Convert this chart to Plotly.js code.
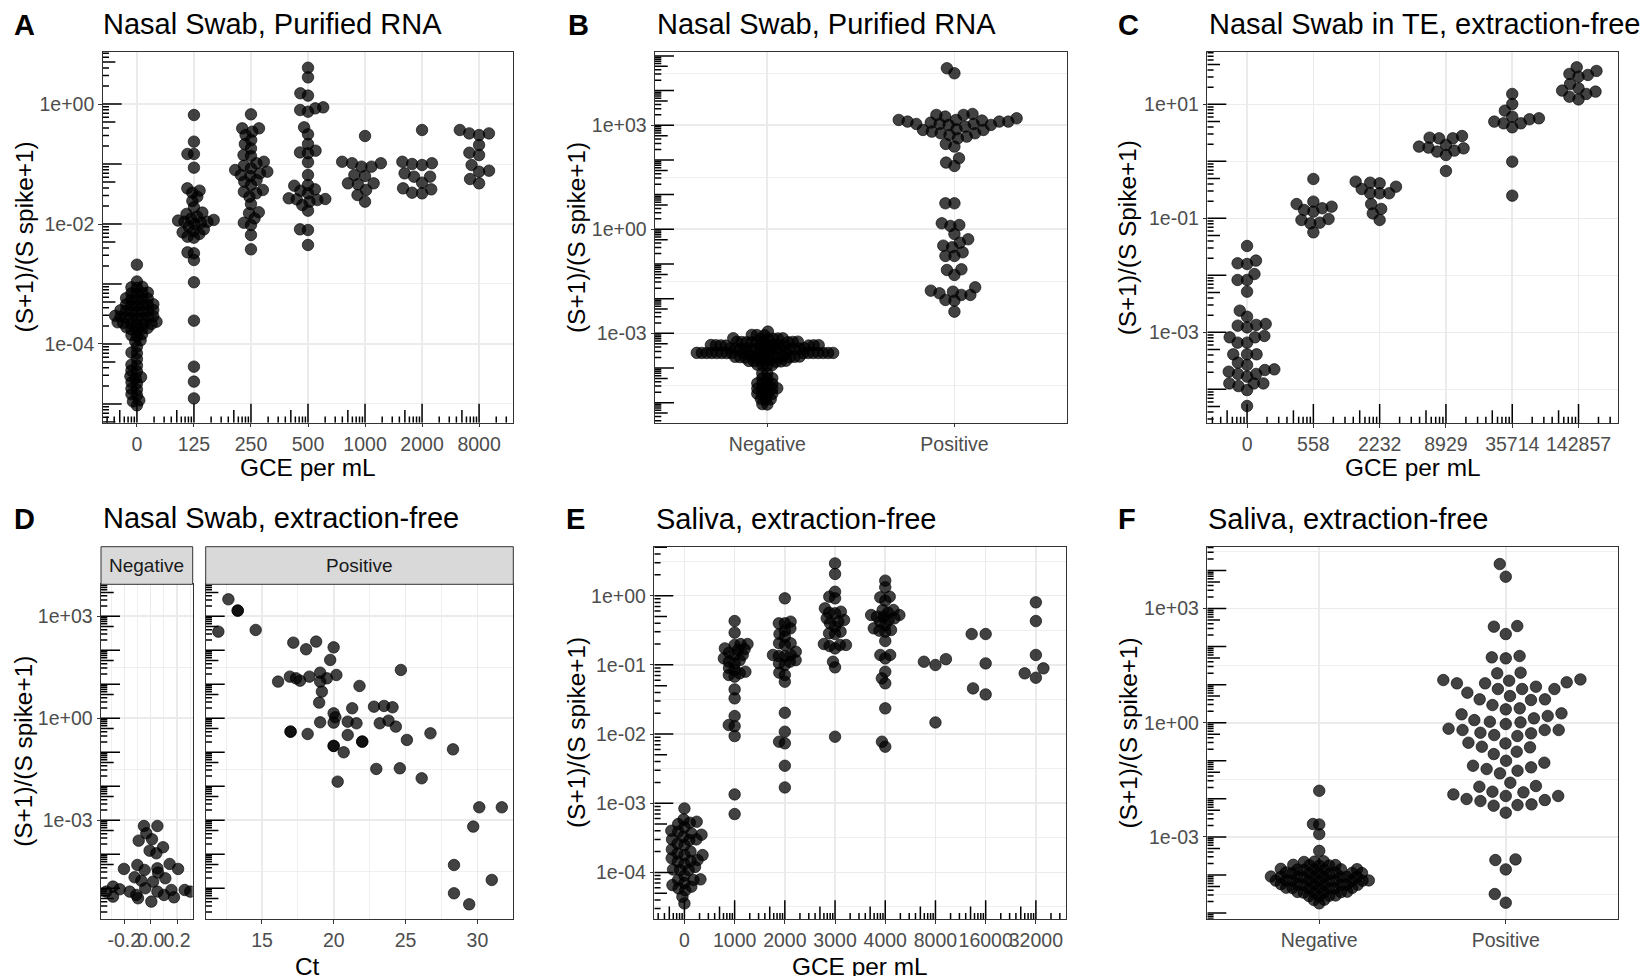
<!DOCTYPE html>
<html><head><meta charset="utf-8">
<script src="https://cdn.plot.ly/plotly-3.0.1.min.js"></script>
<style>body{margin:0;background:#fff}#chart{width:1651px;height:976px}</style>
</head><body><div id="chart"></div><script>
// ---------------- DATA ----------------
const aCats = ['0','125','250','500','1000','2000','8000'];
const a0 = [2.1e-3,1.1e-3,9.0e-4,8.8e-4,8.6e-4,7.2e-4,7.0e-4,7.1e-4,6.9e-4,5.7e-4,5.6e-4,5.5e-4,5.8e-4,5.4e-4,4.5e-4,4.4e-4,4.6e-4,4.3e-4,4.55e-4,4.45e-4,3.6e-4,3.5e-4,3.65e-4,3.4e-4,3.55e-4,3.7e-4,3.45e-4,2.8e-4,2.9e-4,2.85e-4,2.7e-4,2.75e-4,2.95e-4,2.65e-4,2.8e-4,2.2e-4,2.3e-4,2.25e-4,2.35e-4,2.15e-4,2.1e-4,2.2e-4,1.8e-4,1.85e-4,1.7e-4,1.75e-4,1.9e-4,1.4e-4,1.35e-4,1.45e-4,1.1e-4,1.15e-4,9.0e-5,7.0e-5,7.2e-5,5.6e-5,4.5e-5,4.4e-5,3.5e-5,3.6e-5,2.8e-5,2.9e-5,2.7e-5,2.2e-5,2.3e-5,1.8e-5,1.75e-5,1.4e-5,1.45e-5,1.1e-5,1.15e-5,9.5e-6];
const a125 = [0.656,0.236,0.147,0.147,0.0869,0.0393,0.036,0.0333,0.0285,0.0242,0.019,0.0155,0.0147,0.0133,0.0123,0.0117,0.0114,0.0109,0.0109,0.0105,0.01,0.00903,0.00815,0.00764,0.00726,0.00681,0.00615,0.00592,0.00337,0.00325,0.00251,0.00107,0.000245,4.19e-5,2.36e-5,1.24e-5];
const a250 = [0.673,0.393,0.393,0.346,0.304,0.251,0.215,0.182,0.141,0.136,0.109,0.103,0.0938,0.0847,0.0794,0.0745,0.0699,0.0656,0.0631,0.0541,0.0508,0.0447,0.0369,0.0346,0.0324,0.0285,0.0215,0.0157,0.0151,0.0124,0.0105,0.00962,0.00656,0.00378];
const a500 = [4.03,2.78,1.51,1.38,0.88,0.847,0.794,0.745,0.408,0.312,0.215,0.167,0.156,0.151,0.107,0.0656,0.0447,0.0435,0.0378,0.0359,0.0324,0.0268,0.0261,0.0258,0.0251,0.0236,0.0207,0.0167,0.00815,0.00794,0.00447];
const a1000 = [0.293,0.109,0.103,0.103,0.0903,0.0903,0.0656,0.0631,0.0476,0.0476,0.0458,0.0369,0.0304,0.0236];
const a2000 = [0.369,0.109,0.103,0.1,0.0962,0.0699,0.0615,0.0615,0.0489,0.0393,0.0378,0.0333,0.0324];
const a8000 = [0.369,0.324,0.324,0.304,0.207,0.154,0.141,0.0962,0.0774,0.0745,0.0562,0.0476];

const bCats = ['Negative','Positive'];
const bNeg = [1.12e-3,8.9e-4,9.0e-4,8.8e-4,7.1e-4,7.0e-4,7.2e-4,6.9e-4,7.05e-4,7.15e-4,5.6e-4,5.5e-4,5.7e-4,5.65e-4,5.55e-4,5.75e-4,5.45e-4,5.62e-4,5.52e-4,4.5e-4,4.4e-4,4.6e-4,4.45e-4,4.55e-4,4.35e-4,4.65e-4,4.52e-4,4.42e-4,4.58e-4,4.48e-4,4.38e-4,3.55e-4,3.5e-4,3.6e-4,3.45e-4,3.65e-4,3.52e-4,3.58e-4,3.48e-4,3.62e-4,3.4e-4,3.7e-4,3.56e-4,3.42e-4,3.67e-4,2.69e-4,2.7e-4,2.71e-4,2.72e-4,2.68e-4,2.73e-4,2.7e-4,2.69e-4,2.71e-4,2.72e-4,2.7e-4,2.68e-4,2.73e-4,2.71e-4,2.69e-4,2.7e-4,2.72e-4,2.71e-4,2.7e-4,2.69e-4,2.1e-4,2.05e-4,2.15e-4,2.08e-4,2.12e-4,2.0e-4,2.2e-4,2.1e-4,2.03e-4,2.17e-4,2.06e-4,2.13e-4,1.6e-4,1.55e-4,1.65e-4,1.58e-4,1.62e-4,1.52e-4,1.67e-4,1.6e-4,1.2e-4,1.25e-4,1.18e-4,1.22e-4,7.1e-5,7.0e-5,5.0e-5,5.1e-5,4.9e-5,3.55e-5,3.5e-5,3.6e-5,3.45e-5,2.5e-5,2.55e-5,2.45e-5,2.6e-5,2.52e-5,1.78e-5,1.8e-5,1.75e-5,1.82e-5,1.26e-5,1.3e-5,1.22e-5,8.9e-6,9.1e-6];
const bPos = [4.4e4,3.16e4,2120,1990,1990,1780,1590,1425,1425,1365,1276,1276,1276,1194,1092,1092,1092,1023,1023,916,767,733,733,656,588,588,526,471,422,290,243,112,84,67,5.62,5.62,1.49,1.33,1.25,0.733,0.515,0.412,0.338,0.303,0.217,0.17,0.17,0.0702,0.0671,0.0482,0.0212,0.017,0.0159,0.0143,0.0128,0.0128,0.00916,0.00875,0.00422];

const cCats = ['0','558','2232','8929','35714','142857'];
const c0 = [0.0327,0.01625,0.0158,0.0181,0.01055,0.00828,0.00828,0.00517,0.0024,0.00188,0.00135,0.0014,0.00131,0.00122,0.000817,0.000863,0.000817,0.000659,0.000659,0.000411,0.000411,0.000411,0.000294,0.000267,0.000224,0.000218,0.000204,0.000186,0.000186,0.000167,0.000127,0.000127,0.000127,0.000114,9.7e-5,5.1e-5];
const c558 = [0.49,0.196,0.178,0.16,0.15,0.14,0.131,0.0973,0.0935,0.0839,0.0817,0.0568];
const c2232 = [0.44,0.422,0.411,0.359,0.327,0.275,0.275,0.275,0.178,0.146,0.122,0.0935];
const c8929 = [2.78,2.6,2.53,2.53,1.94,1.81,1.74,1.69,1.54,1.48,1.29,0.676];
const c35714 = [15.2,10.1,7.74,6.08,5.68,5.46,4.97,4.64,4.64,3.95,0.987,0.25];
const c142857 = [44.6,38.5,34.1,32.7,30.6,22.7,19.1,17.4,16.7,15.2,13.6,12.2];

const dNegX = [-0.051,0.051,-0.033,-0.091,0.010,0.094,-0.008,0.043,-0.203,-0.101,-0.046,0.051,0.144,0.208,-0.122,-0.071,0.018,0.056,0.111,-0.286,-0.235,-0.337,-0.286,-0.159,-0.109,-0.096,-0.041,0.005,0.051,0.101,0.157,0.177,0.258,0.300];
const dNegY = [6.8e-4,6.8e-4,4.15e-4,2.52e-4,2.76e-4,1.61e-4,1.28e-4,1.07e-4,3.71e-5,4.85e-5,3.46e-5,3.87e-5,5.2e-5,3.71e-5,2.11e-5,1.68e-5,1.57e-5,2.89e-5,1.97e-5,1.12e-5,9.35e-6,7.98e-6,5.69e-6,7.98e-6,6.37e-6,5.08e-6,1.0e-5,4.06e-6,7.98e-6,6.37e-6,8.93e-6,5.43e-6,8.93e-6,7.98e-6];
const dPosCt = [12.66,13.31,13.31,11.96,14.56,17.18,18.07,18.77,19.99,19.75,16.94,17.37,17.65,18.30,19.05,19.52,20.18,16.12,19.05,19.17,18.98,21.79,24.67,19.99,20.11,21.28,20.97,21.58,19.05,19.99,16.99,16.99,18.18,20.97,21.98,21.98,19.99,19.99,20.69,22.80,23.50,24.09,23.20,23.81,24.32,25.09,26.73,28.30,22.96,24.60,26.12,20.27,30.13,31.70,29.71,28.37,31.0,28.37,29.43];
const dPosY = [3160,1469,1469,354,396,168,107,180,122,52.0,16.8,15.0,12.8,16.8,22.0,15.0,18.8,12.0,12.0,6.09,2.89,8.93,26.4,1.40,1.07,1.97,0.798,0.713,0.763,0.746,0.405,0.405,0.346,0.323,0.206,0.206,0.154,0.154,0.100,2.20,2.31,2.11,0.713,0.853,0.569,0.231,0.362,0.122,0.0324,0.0338,0.0172,0.0137,0.00241,0.00241,0.000652,4.85e-5,1.76e-5,7.13e-6,3.38e-6];

const eCats = ['0','1000','2000','3000','4000','8000','16000','32000'];
const e0 = [8.4e-4,5.83e-4,5.4e-4,5.23e-4,5.0e-4,4.5e-4,4.0e-4,3.87e-4,3.66e-4,3.5e-4,3.28e-4,3.0e-4,3.0e-4,2.93e-4,2.6e-4,2.48e-4,2.15e-4,2.0e-4,1.88e-4,1.78e-4,1.78e-4,1.6e-4,1.51e-4,1.47e-4,1.43e-4,1.32e-4,1.2e-4,1.1e-4,1.08e-4,1.08e-4,9.0e-5,7.93e-5,7.75e-5,7.75e-5,7.0e-5,6.56e-5,6.21e-5,5.87e-5,5.5e-5,4.45e-5,3.56e-5];
const e1000 = [0.43,0.292,0.2,0.2,0.194,0.173,0.168,0.164,0.15,0.139,0.139,0.124,0.117,0.111,0.105,0.09,0.0842,0.0796,0.0754,0.0713,0.0675,0.0442,0.0328,0.0182,0.0135,0.013,0.00935,0.00134,0.000697];
const e2000 = [0.915,0.421,0.398,0.398,0.337,0.312,0.279,0.255,0.205,0.205,0.194,0.155,0.139,0.139,0.134,0.134,0.117,0.111,0.105,0.0995,0.0771,0.0713,0.0571,0.0203,0.0108,0.00775,0.00733,0.00348,0.00169];
const e3000 = [2.93,2.06,1.14,0.968,0.915,0.656,0.587,0.568,0.556,0.47,0.445,0.421,0.398,0.356,0.302,0.285,0.279,0.2,0.194,0.194,0.187,0.173,0.111,0.092,0.00915];
const e4000 = [1.65,1.32,0.968,0.946,0.847,0.621,0.621,0.568,0.525,0.525,0.497,0.497,0.47,0.445,0.421,0.377,0.337,0.319,0.312,0.302,0.221,0.139,0.139,0.124,0.0796,0.0638,0.0541,0.0235,0.00775,0.00656];
const e8000 = [0.121,0.0995,0.111,0.0147];
const e16000 = [0.279,0.279,0.105,0.0457,0.0374];
const e32000 = [0.801,0.43,0.139,0.089,0.0754,0.0652];

const fCats = ['Negative','Positive'];
const fNeg = [0.0163,0.00218,0.00212,0.00119,4.3e-4,2.25e-4,2.2e-4,2.3e-4,1.8e-4,1.75e-4,1.85e-4,1.78e-4,1.82e-4,1.4e-4,1.42e-4,1.38e-4,1.45e-4,1.35e-4,1.41e-4,1.39e-4,1.12e-4,1.1e-4,1.14e-4,1.08e-4,1.16e-4,1.11e-4,1.13e-4,1.12e-4,8.9e-5,8.8e-5,9.0e-5,8.7e-5,9.1e-5,8.85e-5,8.95e-5,8.9e-5,9.0e-5,7.1e-5,7.05e-5,7.15e-5,7.0e-5,7.2e-5,7.1e-5,7.08e-5,7.12e-5,7.1e-5,7.05e-5,5.6e-5,5.5e-5,5.7e-5,5.55e-5,5.65e-5,5.45e-5,5.75e-5,5.6e-5,4.5e-5,4.4e-5,4.6e-5,4.45e-5,4.55e-5,4.35e-5,4.65e-5,3.55e-5,3.5e-5,3.6e-5,3.45e-5,3.65e-5,3.52e-5,2.8e-5,2.75e-5,2.85e-5,2.9e-5,2.25e-5,2.2e-5,1.8e-5];
const fPos = [14700,6840,346,333,213,56.4,52,49,20.6,19.8,13.7,13.2,12.7,11.5,10.8,10.8,8.83,7.66,7.66,7.66,6.14,5.02,4.1,4.1,3.94,2.91,2.38,2.24,1.76,1.66,1.5,1.3,1.17,1.06,1.02,0.923,0.695,0.642,0.642,0.642,0.546,0.525,0.474,0.447,0.298,0.286,0.234,0.225,0.173,0.15,0.1,0.089,0.0741,0.0671,0.0607,0.0548,0.0467,0.0265,0.0217,0.0208,0.0154,0.0148,0.0131,0.0119,0.0119,0.00989,0.00929,0.00875,0.00716,0.00687,0.0066,0.00433,0.000257,0.000247,0.00014,3.16e-5,1.87e-5];

// tick label arrays
const yt_A = [1e-4,1e-2,1], yl_A = ['1e-04','1e-02','1e+00'];
const yt_B = [1e-3,1,1e3], yl_B = ['1e-03','1e+00','1e+03'];
const yt_C = [1e-3,1e-1,10], yl_C = ['1e-03','1e-01','1e+01'];
const yt_E = [1e-4,1e-3,1e-2,1e-1,1], yl_E = ['1e-04','1e-03','1e-02','1e-01','1e+00'];
const dNegTicks = [-0.2,0,0.2], dNegLabels = ['-0.2','0.0','0.2'];
const dPosTicks = [15,20,25,30], dPosLabels = ['15','20','25','30'];

// ---------------- LAYOUT ----------------
const W = 1651, H = 976;
const FONT = 'Liberation Sans, Arial, Helvetica, sans-serif';
const panels = {
  A:{box:[102.7,51.7,513.3,422.7], xr:[-0.6,6.6], yr:[-5.312,0.872], xa:'x', ya:'y', xlog:true},
  B:{box:[655,51.7,1066.7,422.7], xr:[-0.6,1.6], yr:[-5.578,5.122], xa:'x2', ya:'y2', xlog:false},
  C:{box:[1207.3,51.7,1618.3,423], xr:[-0.6,5.6], yr:[-4.591,1.923], xa:'x3', ya:'y3', xlog:true},
  Dn:{box:[101,584.3,192.7,919.3], xr:[-0.377,0.319], yr:[-5.912,3.941], xa:'x4', ya:'y4', xlog:false},
  Dp:{box:[205.7,584.3,513.3,919.3], xr:[11.08,32.5], yr:[-5.912,3.941], xa:'x5', ya:'y5', xlog:false},
  E:{box:[654.3,546.7,1066,919.3], xr:[-0.6,7.6], yr:[-4.678,0.708], xa:'x6', ya:'y6', xlog:true},
  F:{box:[1207.3,546.7,1617.7,919.3], xr:[-0.6,1.6], yr:[-5.164,4.623], xa:'x7', ya:'y7', xlog:false}
};
Object.values(panels).forEach(p => {
  p.pxPerUnit = (p.box[2]-p.box[0])/(p.xr[1]-p.xr[0]);
  p.pxPerDec = (p.box[3]-p.box[1])/(p.yr[1]-p.yr[0]);
});

const MARKER = {size:11.5, color:'rgba(0,0,0,0.74)', line:{color:'rgba(0,0,0,0.9)', width:0.7}};
const traces = [];

function swarm(vals, pxPerDec, d) {
  const ys = vals.map(v => Math.log10(v)*pxPerDec);
  const order = ys.map((y,i)=>i).sort((a,b)=>ys[a]-ys[b]);
  const placed = [], xs = new Array(vals.length);
  for (const i of order) {
    const y = ys[i];
    const near = placed.filter(p => Math.abs(p.y-y) < d);
    const cands = [0];
    near.forEach(p => { const dx = Math.sqrt(d*d-(p.y-y)*(p.y-y)); cands.push(p.x+dx, p.x-dx); });
    cands.sort((a,b)=>Math.abs(a)-Math.abs(b) || a-b);
    let best = 0;
    for (const c of cands) {
      if (near.every(p => (p.x-c)*(p.x-c)+(p.y-y)*(p.y-y) >= d*d-1e-6)) { best = c; break; }
    }
    xs[i] = best; placed.push({x:best, y:y});
  }
  return xs;
}

function swarmTrace(p, groups, spacing) {
  const xs = [], ys = [];
  groups.forEach((vals, gi) => {
    const off = swarm(vals, p.pxPerDec, spacing[gi]);
    vals.forEach((v,k) => { xs.push(gi + off[k]/p.pxPerUnit); ys.push(v); });
  });
  traces.push({type:'scatter', mode:'markers', x:xs, y:ys, xaxis:p.xa, yaxis:p.ya, marker:MARKER, hoverinfo:'skip', showlegend:false});
}

swarmTrace(panels.A, [a0,a125,a250,a500,a1000,a2000,a8000], [5.5,6.5,7.5,8,10,10,10]);
swarmTrace(panels.B, [bNeg,bPos], [5,9]);
swarmTrace(panels.C, [c0,c558,c2232,c8929,c35714,c142857], [9.5,9.5,9.5,9.5,9.5,9.5]);
traces.push({type:'scatter', mode:'markers', x:dNegX, y:dNegY, xaxis:'x4', yaxis:'y4', marker:MARKER, hoverinfo:'skip', showlegend:false});
traces.push({type:'scatter', mode:'markers', x:dPosCt, y:dPosY, xaxis:'x5', yaxis:'y5', marker:MARKER, hoverinfo:'skip', showlegend:false});
swarmTrace(panels.E, [e0,e1000,e2000,e3000,e4000,e8000,e16000,e32000], [7,6,6,6,6,12,14,12]);
swarmTrace(panels.F, [fNeg,fPos], [6.3,14]);

// annotation_logticks style tick marks
const LEN = {long:19, mid:12.7, short:6.3};
function tickLen(k){ return k===1 ? LEN.long : (k===5 ? LEN.mid : LEN.short); }
function logTicks(p) {
  const xs=[], ys=[];
  for (let d=Math.floor(p.yr[0]); d<=Math.ceil(p.yr[1]); d++) {
    for (let k=1; k<=9; k++) {
      const lv = d + Math.log10(k);
      if (lv < p.yr[0] || lv > p.yr[1]) continue;
      const v = Math.pow(10, lv);
      xs.push(p.xr[0], p.xr[0] + tickLen(k)/p.pxPerUnit, null);
      ys.push(v, v, null);
    }
  }
  if (p.xlog) {
    const y0 = Math.pow(10, p.yr[0]);
    for (let d=Math.floor(p.xr[0]+1); d<=Math.ceil(p.xr[1]+1); d++) {
      for (let k=1; k<=9; k++) {
        const pos = d - 1 + Math.log10(k);
        if (pos < p.xr[0] || pos > p.xr[1]) continue;
        xs.push(pos, pos, null);
        ys.push(y0, Math.pow(10, p.yr[0] + tickLen(k)/p.pxPerDec), null);
      }
    }
  }
  traces.push({type:'scatter', mode:'lines', x:xs, y:ys, xaxis:p.xa, yaxis:p.ya, line:{color:'#000', width:1.5}, hoverinfo:'skip', showlegend:false});
}
Object.values(panels).forEach(logTicks);

// axes
const GRID = '#ebebeb';
function common(){ return {ticks:'outside', ticklen:3.5, tickwidth:1, tickcolor:'#333', tickangle:0, tickfont:{size:19.5, color:'#4d4d4d', family:FONT}, showgrid:true, gridcolor:GRID, gridwidth:1.6, zeroline:false, showline:true, linecolor:'#333', linewidth:1, mirror:true, fixedrange:true}; }
function mkX(p, tv, tt, minor) {
  const a = Object.assign(common(), {domain:[p.box[0]/W, p.box[2]/W], range:p.xr, anchor:p.ya, tickmode:'array', tickvals:tv, ticktext:tt});
  if (minor) a.minor = {tickmode:'array', tickvals:minor, showgrid:true, gridcolor:GRID, gridwidth:0.8, ticks:''};
  return a;
}
function mkY(p, tv, tt, minor, labels) {
  const a = Object.assign(common(), {type:'log', domain:[1-p.box[3]/H, 1-p.box[1]/H], range:p.yr, anchor:p.xa, tickmode:'array', tickvals:tv, ticktext:tt});
  a.minor = {tickmode:'array', tickvals:minor, showgrid:true, gridcolor:GRID, gridwidth:0.8, ticks:''};
  if (labels === false) { a.showticklabels = false; a.ticks = ''; }
  return a;
}
const half = arr => arr.map(e => Math.pow(10, e));
const idx = n => Array.from({length:n}, (_,i)=>i);

const layout = {
  width:W, height:H, margin:{l:0,r:0,t:0,b:0}, paper_bgcolor:'#fff', plot_bgcolor:'#fff', showlegend:false,
  font:{family:FONT, color:'#000'},
  xaxis: mkX(panels.A, idx(7), aCats),
  yaxis: mkY(panels.A, yt_A, yl_A, half([-5,-3,-1])),
  xaxis2: mkX(panels.B, idx(2), bCats),
  yaxis2: mkY(panels.B, yt_B, yl_B, half([-4.5,-1.5,1.5,4.5])),
  xaxis3: mkX(panels.C, idx(6), cCats),
  yaxis3: mkY(panels.C, yt_C, yl_C, half([-4,-2,0])),
  xaxis4: mkX(panels.Dn, dNegTicks, dNegLabels, [-0.3,-0.1,0.1,0.3]),
  yaxis4: mkY(panels.Dn, yt_B, yl_B, half([-4.5,-1.5,1.5])),
  xaxis5: mkX(panels.Dp, dPosTicks, dPosLabels, [12.5,17.5,22.5,27.5,32.5]),
  yaxis5: mkY(panels.Dp, yt_B, yl_B, half([-4.5,-1.5,1.5]), false),
  xaxis6: mkX(panels.E, idx(8), eCats),
  yaxis6: mkY(panels.E, yt_E, yl_E, half([-4.5,-3.5,-2.5,-1.5,-0.5,0.5])),
  xaxis7: mkX(panels.F, idx(2), fCats),
  yaxis7: mkY(panels.F, yt_B, yl_B, half([-4.5,-1.5,1.5,4.5])),
  shapes: [], annotations: []
};

// facet strips for D
[panels.Dn, panels.Dp].forEach(p => {
  layout.shapes.push({type:'rect', xref:'paper', yref:'paper', x0:p.box[0]/W, x1:p.box[2]/W, y0:1-584.3/H, y1:1-546.7/H, fillcolor:'#d9d9d9', line:{color:'#333', width:1}, layer:'above'});
});

function ann(text, px, py, o) {
  layout.annotations.push(Object.assign({text:text, x:px/W, y:1-py/H, xref:'paper', yref:'paper', showarrow:false, xanchor:'left', yanchor:'middle', font:{family:FONT, size:29, color:'#000'}}, o||{}));
}
const LET = {size:29, color:'#000', family:FONT};
ann('<b>A</b>', 11.5, 24.7, {font:LET}); ann('Nasal Swab, Purified RNA', 101, 24);
ann('<b>B</b>', 565.5, 24.7, {font:LET}); ann('Nasal Swab, Purified RNA', 655, 24);
ann('<b>C</b>', 1115.5, 24.7, {font:LET}); ann('Nasal Swab in TE, extraction-free', 1207, 24);
ann('<b>D</b>', 12, 518.5, {font:LET}); ann('Nasal Swab, extraction-free', 101, 518);
ann('<b>E</b>', 564, 519, {font:LET}); ann('Saliva, extraction-free', 654, 519);
ann('<b>F</b>', 1115.5, 519, {font:LET}); ann('Saliva, extraction-free', 1206, 519);

const AX = {family:FONT, size:24.4, color:'#000'};
ann('GCE per mL', 308, 467.7, {xanchor:'center', font:AX});
ann('GCE per mL', 1412.8, 467.7, {xanchor:'center', font:AX});
ann('Ct', 307.5, 966, {xanchor:'center', font:AX});
ann('GCE per mL', 860, 966, {xanchor:'center', font:AX});
const YT = '(S+1)/(S spike+1)';
ann(YT, 24.2, 237.2, {xanchor:'center', textangle:-90, font:AX});
ann(YT, 575.8, 237.2, {xanchor:'center', textangle:-90, font:AX});
ann('(S+1)/(S Spike+1)', 1127.8, 237.5, {xanchor:'center', textangle:-90, font:AX});
ann(YT, 24, 751.8, {xanchor:'center', textangle:-90, font:AX});
ann(YT, 576, 733, {xanchor:'center', textangle:-90, font:AX});
ann(YT, 1127.5, 733, {xanchor:'center', textangle:-90, font:AX});

const ST = {family:FONT, size:19, color:'#1a1a1a'};
ann('Negative', (panels.Dn.box[0]+panels.Dn.box[2])/2, 565.5, {xanchor:'center', font:ST});
ann('Positive', (panels.Dp.box[0]+panels.Dp.box[2])/2, 565.5, {xanchor:'center', font:ST});

Plotly.newPlot('chart', traces, layout, {staticPlot:true, displayModeBar:false});
</script></body></html>
